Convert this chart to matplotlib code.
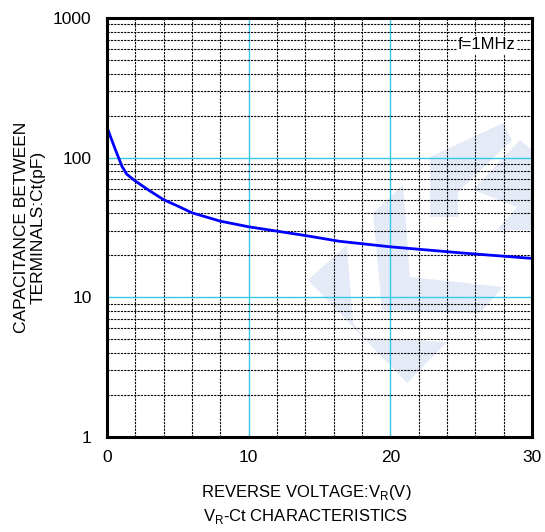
import numpy as np
import matplotlib
matplotlib.use('Agg')
import matplotlib.pyplot as plt
from matplotlib.patches import Polygon

plt.rcParams['font.family'] = ['Liberation Sans', 'DejaVu Sans']

# VR-Ct curve
vr = [0, 0.55, 1.05, 1.4, 2, 3, 4, 5, 6, 8, 10, 14, 16.4, 20, 25, 30]
ct = [165, 117, 87, 76, 68, 58, 50, 45, 40.3, 35.1, 32, 27.7, 25.2, 23, 20.8, 19.0]

x_ticks = [0, 10, 20, 30]
y_ticks = [1, 10, 100, 1000]
y_ticklabels = ['1', '10', '100', '1000']

fig = plt.figure(figsize=(5.45, 5.32), dpi=100)
ax = fig.add_axes([107/545, 95/532, 425/545, 419/532])

# faint watermark behind the grid (axes fraction coords)
def px(pts):
    return [((x - 107) / 425, (437 - y) / 419) for x, y in pts]

wm = [
    [(308, 280), (347, 245), (353, 323), (365, 338), (447, 342), (407, 383)],
    [(373, 213), (403, 185), (410, 277), (503, 287), (480, 313), (382, 310)],
    [(430, 157), (503, 123), (512, 140), (458, 192), (458, 217), (430, 217)],
    [(473, 190), (520, 140), (532, 150), (532, 230), (497, 230), (517, 207)],
]
for p in wm:
    ax.add_patch(Polygon(px(p), closed=True, transform=ax.transAxes,
                         facecolor='#e4eaf6', edgecolor='none', zorder=0))

# grid
for v in range(2, 30, 2):
    if v in (10, 20):
        ax.axvline(v, color='#38c8ee', lw=1.0, zorder=1)
    else:
        ax.axvline(v, color='black', lw=0.8, ls=(0, (2, 1)), zorder=1)
for dec in [1, 10, 100]:
    for m in range(1, 10):
        val = dec * m
        if val == 1:
            continue
        if m == 1:
            ax.axhline(val, color='#38c8ee', lw=1.0, zorder=1)
        else:
            ax.axhline(val, color='black', lw=0.8, ls=(0, (2, 1)), zorder=1)

ax.plot(vr, ct, color='#0000ff', lw=2.0, zorder=3)

ax.set_yscale('log')
ax.set_xlim(0, 30)
ax.set_ylim(1, 1000)
ax.set_xticks(x_ticks)
ax.set_yticks(y_ticks)
ax.set_yticklabels(y_ticklabels)
ax.minorticks_off()
ax.tick_params(length=0, labelsize=12.5)
ax.tick_params(axis='y', pad=11)
ax.tick_params(axis='x', pad=9)
for s in ax.spines.values():
    s.set_linewidth(2.2)
    s.set_zorder(4)

ax.text(0.962, 0.936, 'f=1MHz', transform=ax.transAxes, ha='right', va='center',
        fontsize=12, zorder=5,
        bbox=dict(facecolor='white', edgecolor='none', pad=1))

ax.set_ylabel('CAPACITANCE BETWEEN\nTERMINALS:Ct(pF)', fontsize=12.5,
              linespacing=1.15)
ax.yaxis.set_label_coords(-0.145, 0.5)

fig.text(306/545, 1 - 493/532, 'REVERSE VOLTAGE:V$_\\mathregular{R}$(V)',
         ha='center', va='center', fontsize=12)
fig.text(306/545, 1 - 517/532, 'V$_\\mathregular{R}$-Ct CHARACTERISTICS',
         ha='center', va='center', fontsize=12)

fig.savefig('out.png', dpi=100)
